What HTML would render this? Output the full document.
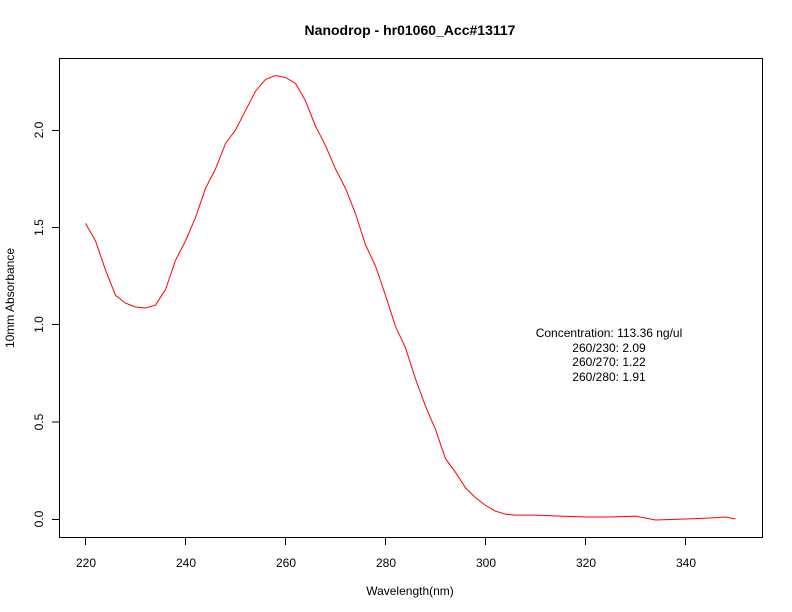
<!DOCTYPE html>
<html><head><style>body{margin:0;background:#fff}svg{display:block}text{font-family:"Liberation Sans",sans-serif;font-size:12px;fill:#000}</style></head>
<body>
<svg width="792" height="612" viewBox="0 0 792 612">
<text x="410" y="35" text-anchor="middle" style="font-weight:bold;font-size:14px">Nanodrop - hr01060_Acc#13117</text>
<rect x="59.5" y="58.5" width="703" height="479" fill="none" stroke="#000" stroke-width="1"/>
<g stroke="#000" stroke-width="1">
<line x1="85.5" y1="538" x2="85.5" y2="545"/><line x1="185.5" y1="538" x2="185.5" y2="545"/><line x1="285.5" y1="538" x2="285.5" y2="545"/><line x1="385.5" y1="538" x2="385.5" y2="545"/><line x1="485.5" y1="538" x2="485.5" y2="545"/><line x1="585.5" y1="538" x2="585.5" y2="545"/><line x1="685.5" y1="538" x2="685.5" y2="545"/>
<line x1="52" y1="519.5" x2="59" y2="519.5"/><line x1="52" y1="422" x2="59" y2="422"/><line x1="52" y1="324.5" x2="59" y2="324.5"/><line x1="52" y1="227.5" x2="59" y2="227.5"/><line x1="52" y1="130.5" x2="59" y2="130.5"/>
</g>
<g text-anchor="middle">
<text x="86" y="567">220</text><text x="186" y="567">240</text><text x="286" y="567">260</text><text x="386" y="567">280</text><text x="486" y="567">300</text><text x="586" y="567">320</text><text x="686" y="567">340</text>
<text transform="translate(43,519) rotate(-90)">0.0</text><text transform="translate(43,422) rotate(-90)">0.5</text><text transform="translate(43,324.5) rotate(-90)">1.0</text><text transform="translate(43,227.5) rotate(-90)">1.5</text><text transform="translate(43,130) rotate(-90)">2.0</text>
<text x="410" y="595">Wavelength(nm)</text>
<text transform="translate(14,298) rotate(-90)">10mm Absorbance</text>
<text x="609" y="337">Concentration: 113.36 ng/ul</text>
<text x="609" y="352">260/230: 2.09</text>
<text x="609" y="366">260/270: 1.22</text>
<text x="609" y="381">260/280: 1.91</text>
</g>
<g transform="translate(-1014.5,519) scale(5,-194.5)">
<polyline fill="none" stroke="#f00" stroke-width="1" vector-effect="non-scaling-stroke" points="220,1.52 222,1.43 224,1.28 226,1.15 228,1.11 230,1.09 232,1.085 234,1.10 236,1.18 238,1.33 240,1.43 242,1.55 244,1.70 246,1.80 248,1.93 250,2.00 252,2.10 254,2.20 256,2.26 258,2.28 260,2.27 262,2.24 264,2.15 266,2.02 268,1.92 270,1.80 272,1.70 274,1.57 276,1.41 278,1.30 280,1.15 282,0.99 284,0.88 286,0.72 288,0.58 290,0.46 292,0.31 294,0.24 296,0.16 298,0.11 300,0.07 302,0.04 304,0.025 306,0.02 310,0.02 315,0.015 320,0.01 325,0.01 330,0.015 334,-0.005 340,0.0 345,0.005 348,0.01 350,0.0"/>
</g>
</svg>
</body></html>
